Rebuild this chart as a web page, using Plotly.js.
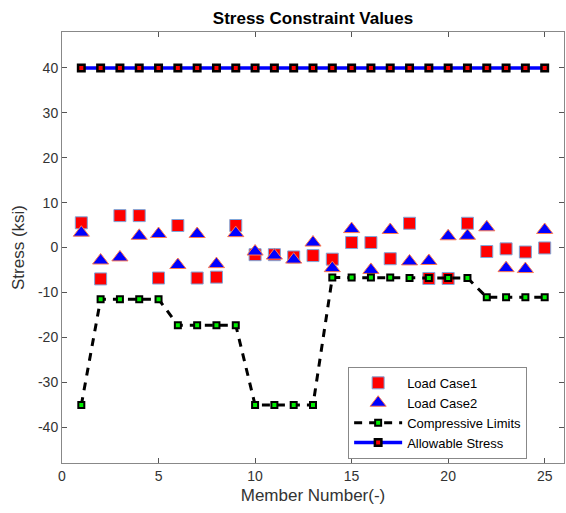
<!DOCTYPE html>
<html>
<head>
<meta charset="utf-8">
<script src="https://cdn.plot.ly/plotly-3.0.1.min.js"></script>
<style>html,body{margin:0;padding:0;background:#fff;}#chart{width:566px;height:513px;}</style>
</head>
<body>
<div id="chart"></div>
<script>
const members = [1,2,3,4,5,6,7,8,9,10,11,12,13,14,15,16,17,18,19,20,21,22,23,24,25];
const loadCase1 = [5.5,-7.0,7.1,7.1,-6.8,4.9,-6.8,-6.6,4.9,-1.6,-1.6,-2.1,-1.8,-2.6,1.1,1.1,-2.5,5.4,-6.9,-6.9,5.4,-0.9,-0.3,-1.0,-0.1];
const loadCase2 = [3.3,-2.9,-2.2,2.6,3.0,-3.9,3.0,-3.7,3.2,-0.9,-1.8,-2.7,1.1,-4.6,4.1,-5.0,3.9,-3.1,-3.0,2.5,2.6,4.5,-4.6,-4.8,3.9];
const compressive = [-35.1,-11.5,-11.5,-11.5,-11.5,-17.3,-17.3,-17.3,-17.3,-35.1,-35.1,-35.1,-35.1,-6.7,-6.7,-6.7,-6.7,-6.8,-6.8,-6.8,-6.8,-11.1,-11.1,-11.1,-11.1];
const allowable = [40,40,40,40,40,40,40,40,40,40,40,40,40,40,40,40,40,40,40,40,40,40,40,40,40];
const seriesNames = ["Load Case1","Load Case2","Compressive Limits","Allowable Stress"];
const xTicks = [0,5,10,15,20,25];
const yTicks = [-40,-30,-20,-10,0,10,20,30,40];

const traces = [
  {x: members, y: loadCase1, name: seriesNames[0], mode: 'markers', type: 'scatter',
   marker: {symbol: 'square', size: 12, color: '#ff0000', line: {color: '#7fa6d9', width: 1}}},
  {x: members, y: loadCase2, name: seriesNames[1], mode: 'markers', type: 'scatter',
   marker: {symbol: 'triangle-up', size: 14, color: '#0000ff', line: {color: '#ff7a50', width: 1}}},
  {x: members, y: compressive, name: seriesNames[2], mode: 'lines+markers', type: 'scatter',
   line: {color: '#000000', width: 3, dash: '8px,7px'},
   marker: {symbol: 'square', size: 6, color: '#00ee00', line: {color: '#000000', width: 2}}},
  {x: members, y: allowable, name: seriesNames[3], mode: 'lines+markers', type: 'scatter',
   line: {color: '#0000ff', width: 3.5},
   marker: {symbol: 'square', size: 6.5, color: '#ff0000', line: {color: '#000000', width: 2.5}}}
];

const axisFont = {family: 'Liberation Sans, Arial, sans-serif', size: 14, color: '#333333'};
const layout = {
  width: 566, height: 513,
  margin: {l: 62, r: 2, t: 32, b: 50},
  paper_bgcolor: '#ffffff', plot_bgcolor: '#ffffff',
  title: {text: '<b>Stress Constraint Values</b>', x: 0.5, xref: 'paper', y: 0.965, yanchor: 'middle',
          font: {family: 'Liberation Sans, Arial, sans-serif', size: 17, color: '#000000'}},
  xaxis: {range: [0, 26], tickvals: xTicks, ticktext: xTicks.map(String),
          ticks: 'inside', ticklen: 5, tickcolor: '#555', mirror: 'ticks', showline: true, linecolor: '#888', linewidth: 1,
          showgrid: false, zeroline: false, tickfont: axisFont,
          title: {text: 'Member Number(-)', font: {family: 'Liberation Sans, Arial, sans-serif', size: 17, color: '#333333'}, standoff: 6}},
  yaxis: {range: [-48, 48], tickvals: yTicks, ticktext: yTicks.map(String),
          ticks: 'inside', ticklen: 5, tickcolor: '#555', mirror: 'ticks', showline: true, linecolor: '#888', linewidth: 1,
          showgrid: false, zeroline: false, tickfont: axisFont,
          title: {text: 'Stress (ksi)', font: {family: 'Liberation Sans, Arial, sans-serif', size: 17, color: '#333333'}, standoff: 9}},
  legend: {x: 0.57, y: 0.223, xanchor: 'left', yanchor: 'top', bgcolor: '#ffffff', bordercolor: '#888', borderwidth: 1,
           font: {family: 'Liberation Sans, Arial, sans-serif', size: 13, color: '#000'}, tracegroupgap: 0, itemwidth: 48},
  showlegend: true
};
Plotly.newPlot('chart', traces, layout, {displayModeBar: false, staticPlot: true});
</script>
</body>
</html>
